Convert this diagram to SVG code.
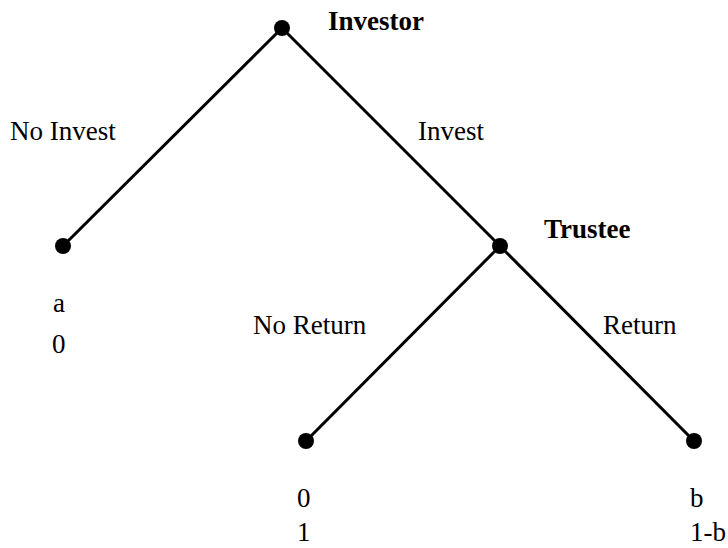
<svg xmlns="http://www.w3.org/2000/svg" width="728" height="548" viewBox="0 0 728 548">
<style>
.t{font-family:"Liberation Serif","Times New Roman",serif;font-size:27px;fill:#000}
.b{font-weight:bold}
.e{stroke:#000;stroke-width:3;fill:none}
.n{fill:#000}
</style>
<rect width="728" height="548" fill="#fff"/>
<g id="connectors">
<line class="e" x1="282" y1="28" x2="63" y2="246"/>
<line class="e" x1="282" y1="28" x2="500" y2="246"/>
<line class="e" x1="500" y1="246" x2="306" y2="441"/>
<line class="e" x1="500" y1="246" x2="694" y2="441"/>
</g>
<g id="investor"><circle class="n" cx="282" cy="28" r="8"/><text class="t b" x="328" y="30">Investor</text></g>
<g id="trustee"><circle class="n" cx="500" cy="246" r="8"/><text class="t b" x="544" y="238">Trustee</text></g>
<g id="leaf-noinvest"><circle class="n" cx="63" cy="246" r="8"/><text class="t" x="53" y="312">a</text><text class="t" x="52" y="353">0</text></g>
<g id="leaf-noreturn"><circle class="n" cx="306" cy="441" r="8"/><text class="t" x="297" y="507">0</text><text class="t" x="297" y="541">1</text></g>
<g id="leaf-return"><circle class="n" cx="694" cy="441" r="8"/><text class="t" x="690" y="507">b</text><text class="t" x="690" y="541">1-b</text></g>
<g id="labels">
<text class="t" x="10" y="140">No Invest</text>
<text class="t" x="418" y="140">Invest</text>
<text class="t" x="253" y="334">No Return</text>
<text class="t" x="603" y="334">Return</text>
</g>
</svg>
